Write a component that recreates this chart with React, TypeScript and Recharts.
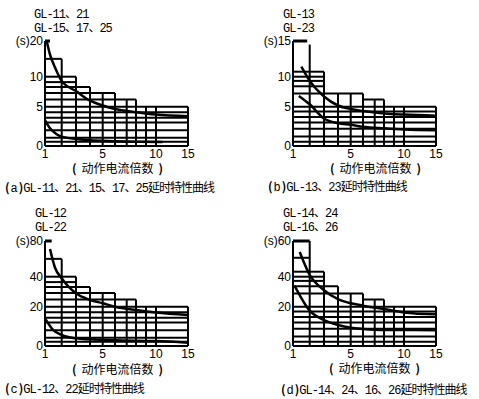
import React from "react";
import { ComposedChart, Line, XAxis, YAxis, ReferenceLine } from "recharts";

// the printed axes are hand-drawn and uneven, so both axes are warped
// piecewise between their marks before they reach the linear scales
const X_KNOTS = [1, 2, 3, 4, 5, 6, 7, 8, 9, 10, 15];
const X_WARP = [0, 16.7, 31, 45, 57.7, 70, 81.7, 91, 101, 111, 143];
const X_TICKS = [1, 5, 10, 15];
const Y_WARP = [0, 39.3, 69.3, 105];

// (a) GL-11,21,15,17,25
const aTicks = [0, 5, 10, 20];
const aCols = [20, 15, 10, 8.3, 7.3, 7.3, 6.2, 6.2, 5, 5, 5];
const aRows = [15, 10, 9.1, 8.3, 7.3, 6.2, 5, 4.3, 3.6, 3.0, 2.0, 1.06, 0.55, 0];
const aRowFrom = [1, 1, 1, 1, 1, 1, 1, 1, 1, 1, 1, 1, 1, 1];
const aRowTo = [2, 3, 3, 4, 6, 8, 15, 15, 15, 15, 15, 15, 15, 15];
const aCapTo = 1.3;
const aUpperX = [1.1, 1.3, 1.6, 2, 3, 4, 5, 6, 8, 10, 15];
const aUpperY = [20, 16.2, 12.6, 9.3, 7.6, 6.0, 5.2, 4.7, 4.3, 4.0, 3.8];
const aLowerX = [1, 1.3, 1.7, 2, 3, 4, 6, 8, 11];
const aLowerY = [3.3, 2.25, 1.5, 1.2, 0.9, 0.72, 0.62, 0.55, 0.5];

// (b) GL-13,23
const bTicks = [0, 5, 10, 15];
const bCols = [15, 14.5, 10.7, 7.2, 7.2, 7.2, 6.2, 6.2, 5, 5, 5];
const bRows = [10.7, 10, 9.3, 8.4, 7.2, 6.2, 5, 4.4, 3.7, 3.0, 2.2, 1.2, 0.55, 0];
const bRowFrom = [1, 1, 1, 1, 1, 6, 1, 1, 1, 1, 1, 1, 1, 1];
const bRowTo = [3, 3, 3, 3, 6, 8, 15, 15, 15, 15, 15, 15, 15, 15];
const bCapTo = 1.85;
const bUpperX = [1.5, 2, 3, 4, 5, 6, 8, 10, 15];
const bUpperY = [11.4, 9.3, 6.7, 5.2, 4.7, 4.45, 4.15, 4.0, 3.85];
const bLowerX = [1.35, 2, 3, 4, 5, 6, 8, 10, 15];
const bLowerY = [6.8, 5.4, 3.5, 2.9, 2.7, 2.45, 2.25, 2.1, 2.0];

// (c) GL-12,22
const cTicks = [0, 20, 40, 80];
const cCols = [80, 60, 40, 33.2, 29.2, 29.2, 24.8, 24.8, 20, 20, 20];
const cRows = [60, 40, 36.4, 33.2, 29.2, 24.8, 20, 17.2, 14.4, 12, 8, 4.2, 2.2, 0];
const cRowFrom = [1, 1, 1, 1, 1, 1, 1, 1, 1, 1, 1, 1, 1, 1];
const cRowTo = [2, 3, 3, 4, 6, 8, 15, 15, 15, 15, 15, 15, 15, 15];
const cCapTo = 1.4;
const cUpperX = [1.3, 1.6, 2, 3, 4, 5, 6, 8, 10, 15];
const cUpperY = [71, 50, 39, 28.9, 24.5, 22.3, 20, 18.3, 17.1, 15.8];
const cLowerX = [1, 1.5, 2, 3, 4, 6, 10, 15];
const cLowerY = [14.1, 8.1, 5.6, 3.9, 3.4, 2.9, 2.5, 1.7];

// (d) GL-14,24,16,26
const dTicks = [0, 20, 40, 60];
const dCols = [60, 60, 42.8, 33.6, 28.8, 28.8, 24.8, 24.8, 20, 20, 20];
const dRows = [50.6, 42.8, 40, 37.2, 33.6, 28.8, 24.8, 20, 17.6, 14.8, 12, 8.8, 4.8, 2.2, 0];
const dRowFrom = [1, 1, 1, 1, 1, 1, 6, 1, 1, 1, 1, 1, 1, 1, 1];
const dRowTo = [2, 3, 3, 3, 4, 6, 8, 15, 15, 15, 15, 15, 15, 15, 15];
const dCapTo = 2;
const dUpperX = [1.4, 2, 3, 4, 5, 6, 8, 10, 15];
const dUpperY = [53.8, 41, 31, 25.1, 22.3, 20.7, 18.8, 17.1, 16.1];
const dLowerX = [1.1, 2, 3, 4, 5, 6, 8, 10, 15];
const dLowerY = [33.9, 18, 13.2, 10.7, 9.3, 8.65, 8.1, 8.1, 8.0];

const warp = (v: number, xs: number[], ps: number[]) => {
  if (v <= xs[0]) return ps[0];
  for (let i = 1; i < xs.length; i++) {
    if (v <= xs[i]) {
      const t = (v - xs[i - 1]) / (xs[i] - xs[i - 1]);
      return ps[i - 1] + t * (ps[i] - ps[i - 1]);
    }
  }
  return ps[ps.length - 1];
};
const wx = (v: number) => warp(v, X_KNOTS, X_WARP);

const MONO = '"Liberation Mono", "Noto Sans CJK SC", monospace';
const CJK = '"Noto Sans CJK SC", sans-serif';

type PanelProps = {
  left: number;
  top: number;
  axisW: number;
  ticks: number[];
  cols: number[];
  rows: number[];
  rowFrom: number[];
  rowTo: number[];
  capTo: number;
  upper: [number[], number[]];
  lower: [number[], number[]];
};

const Panel = ({ left, top, axisW, ticks, cols, rows, rowFrom, rowTo, capTo, upper, lower }: PanelProps) => {
  const wy = (v: number) => warp(v, ticks, Y_WARP);
  const yMax = ticks[ticks.length - 1];
  const pts = ([xs, ys]: [number[], number[]]) => xs.map((x, i) => ({ x: wx(x), y: wy(ys[i]) }));
  const xt = X_TICKS.map(wx);
  const yt = ticks.map(wy);
  return (
    <div style={{ position: "absolute", left, top }}>
      <ComposedChart width={240} height={200} margin={{ top: 41, right: 240 - axisW - 143, bottom: 0, left: 0 }}>
        <XAxis
          type="number"
          dataKey="x"
          domain={[0, 143]}
          ticks={xt}
          tickFormatter={(v) => String(X_TICKS[xt.indexOf(v)])}
          axisLine={false}
          tickLine={false}
          tickSize={0}
          tickMargin={3}
          height={54}
          interval={0}
          tick={{ fill: "#000", fontSize: 12, fontFamily: "Liberation Sans" }}
        />
        <YAxis
          type="number"
          domain={[0, 105]}
          ticks={yt}
          tickFormatter={(v) => {
            const n = ticks[yt.indexOf(v)];
            return n === yMax ? `(s)${n}` : String(n);
          }}
          axisLine={false}
          tickLine={false}
          tickSize={0}
          tickMargin={2}
          width={axisW}
          interval={0}
          tick={{ fill: "#000", fontSize: 12, fontFamily: "Liberation Sans" }}
        />
        {X_KNOTS.map((k, i) => (
          <ReferenceLine
            key={"v" + i}
            segment={[{ x: wx(k), y: 0 }, { x: wx(k), y: wy(cols[i]) }]}
            stroke="#000"
            strokeWidth={2}
          />
        ))}
        {rows.map((r, i) => (
          <ReferenceLine
            key={"h" + i}
            segment={[{ x: wx(rowFrom[i]), y: wy(r) }, { x: wx(rowTo[i]), y: wy(r) }]}
            stroke="#000"
            strokeWidth={2}
          />
        ))}
        <ReferenceLine
          segment={[{ x: 0, y: wy(yMax) }, { x: wx(capTo), y: wy(yMax) }]}
          stroke="#000"
          strokeWidth={3}
        />
        <Line data={pts(upper)} dataKey="y" name="upper" type="monotone" dot={false} stroke="#000" strokeWidth={2.5} isAnimationActive={false} />
        <Line data={pts(lower)} dataKey="y" name="lower" type="monotone" dot={false} stroke="#000" strokeWidth={2.5} isAnimationActive={false} />
      </ComposedChart>
    </div>
  );
};

const T = ({ x, y, size = 12, font = MONO, children }: { x: number; y: number; size?: number; font?: string; children: React.ReactNode }) => (
  <div
    style={{
      position: "absolute",
      left: x,
      top: y,
      fontSize: size,
      lineHeight: `${size}px`,
      fontFamily: font,
      letterSpacing: font === MONO ? -1 : 0,
      whiteSpace: "nowrap",
      color: "#000",
    }}
  >
    {children}
  </div>
);

const P = ({ c, gap }: { c: string; gap: string }) => (
  <b style={{ fontFamily: CJK, margin: gap }}>{c}</b>
);

const AxisName = ({ x, y }: { x: number; y: number }) => (
  <T x={x} y={y} size={12} font={CJK}>
    <P c="(" gap="0 5px 0 0" />动作电流倍数<P c=")" gap="0 0 0 5px" />
  </T>
);

const Caption = ({ x, y, tag, text }: { x: number; y: number; tag: string; text: string }) => (
  <T x={x} y={y}>
    <P c="(" gap="0 2px 0 0" />{tag}<P c=")" gap="0 1px 0 2px" />{text}
  </T>
);

export default function App() {
  return (
    <div style={{ position: "absolute", left: 0, top: 0, width: 479, height: 399, background: "#fff", overflow: "hidden" }}>
      <Panel left={0} top={0} axisW={45} ticks={aTicks} cols={aCols} rows={aRows} rowFrom={aRowFrom} rowTo={aRowTo} capTo={aCapTo} upper={[aUpperX, aUpperY]} lower={[aLowerX, aLowerY]} />
      <Panel left={240} top={0} axisW={53} ticks={bTicks} cols={bCols} rows={bRows} rowFrom={bRowFrom} rowTo={bRowTo} capTo={bCapTo} upper={[bUpperX, bUpperY]} lower={[bLowerX, bLowerY]} />
      <Panel left={0} top={200} axisW={45} ticks={cTicks} cols={cCols} rows={cRows} rowFrom={cRowFrom} rowTo={cRowTo} capTo={cCapTo} upper={[cUpperX, cUpperY]} lower={[cLowerX, cLowerY]} />
      <Panel left={240} top={200} axisW={53} ticks={dTicks} cols={dCols} rows={dRows} rowFrom={dRowFrom} rowTo={dRowTo} capTo={dCapTo} upper={[dUpperX, dUpperY]} lower={[dLowerX, dLowerY]} />

      <T x={34} y={9}>GL-11、21</T>
      <T x={34} y={23}>GL-15、17、25</T>
      <AxisName x={72} y={162} />
      <Caption x={5} y={181} tag="a" text="GL-11、21、15、17、25延时特性曲线" />

      <T x={283} y={9}>GL-13</T>
      <T x={283} y={23}>GL-23</T>
      <AxisName x={330} y={162} />
      <Caption x={268} y={180} tag="b" text="GL-13、23延时特性曲线" />

      <T x={35} y={208}>GL-12</T>
      <T x={35} y={222}>GL-22</T>
      <AxisName x={72} y={363} />
      <Caption x={5} y={382} tag="c" text="GL-12、22延时特性曲线" />

      <T x={283} y={208}>GL-14、24</T>
      <T x={283} y={222}>GL-16、26</T>
      <AxisName x={329} y={362} />
      <Caption x={281} y={383} tag="d" text="GL-14、24、16、26延时特性曲线" />
    </div>
  );
}
